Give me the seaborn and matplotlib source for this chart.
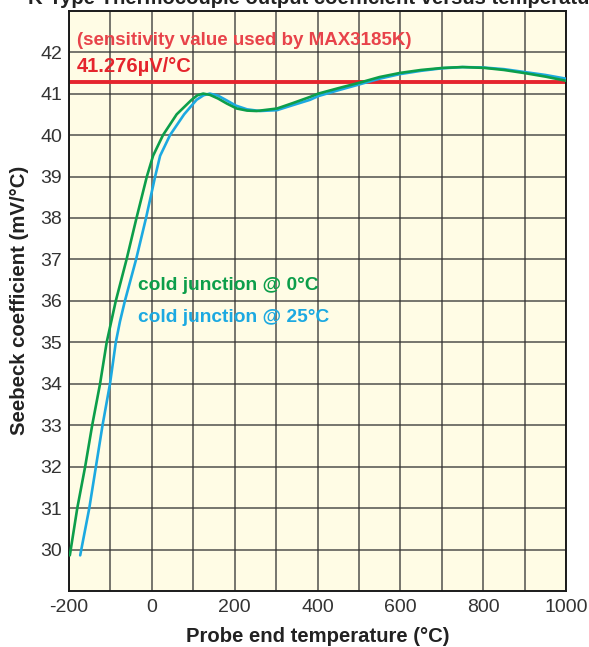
import matplotlib
matplotlib.use("Agg")
import matplotlib.pyplot as plt
import seaborn as sns
import pandas as pd

# ---- data ----
temp_0c = [-198, -180, -161, -144, -125, -109, -87, -61, -37, -12, 3, 27, 60, 96, 110, 124,
           140, 160, 181, 205, 230, 253, 302, 340, 382, 402, 450, 504, 550, 600, 650, 703,
           750, 803, 850, 903, 950, 1000]
seebeck_0c = [29.86, 31.0, 32.0, 33.0, 34.0, 35.0, 36.0, 37.0, 38.0, 39.0, 39.5, 40.0, 40.5,
              40.85, 40.96, 41.0, 40.97, 40.88, 40.76, 40.64, 40.59, 40.58, 40.64, 40.77,
              40.92, 41.0, 41.13, 41.27, 41.40, 41.50, 41.57, 41.62, 41.64, 41.62, 41.57,
              41.49, 41.41, 41.31]

temp_25c = [-173, -151, -135, -119, -101, -87, -77, -65, -38, -14, 8, 20, 44, 78, 108, 125,
            140, 160, 180, 203, 230, 261, 302, 340, 382, 402, 450, 504, 550, 599, 650, 700,
            750, 800, 850, 900, 950, 1000]
seebeck_25c = [29.86, 31.0, 32.0, 33.0, 34.0, 35.0, 35.5, 36.0, 37.0, 38.0, 39.0, 39.5, 40.0,
               40.5, 40.85, 40.96, 41.0, 40.95, 40.84, 40.71, 40.62, 40.58, 40.6, 40.72,
               40.85, 40.94, 41.08, 41.23, 41.36, 41.47, 41.55, 41.61, 41.64, 41.63, 41.59,
               41.52, 41.45, 41.36]

series_names = ["cold junction @ 0°C", "cold junction @ 25°C"]
max_sensitivity = 41.276
x_ticks = list(range(-200, 1001, 100))
x_labels = [str(t) if t % 200 == 0 else "" for t in x_ticks]
y_ticks = list(range(30, 43))
title = "K-Type Thermocouple output coefficient versus temperature"

# ---- style ----
sns.set_style("white", {"axes.facecolor": "#FFFCE5"})
plt.rcParams["font.family"] = ["Liberation Sans", "DejaVu Sans"]

W, H = 589, 647
fig = plt.figure(figsize=(W / 100, H / 100), dpi=100)
ax = fig.add_axes([69 / W, (H - 591) / H, (566 - 69) / W, (591 - 10.7) / H])

df = pd.concat([
    pd.DataFrame({"T": temp_0c, "S": seebeck_0c, "series": series_names[0]}),
    pd.DataFrame({"T": temp_25c, "S": seebeck_25c, "series": series_names[1]}),
])
green = "#0C9E4A"
blue = "#1CA9E1"
red = "#E5252D"

ax.axhline(max_sensitivity, color=red, lw=2.8, zorder=2)
sns.lineplot(data=df, x="T", y="S", hue="series", palette=[green, blue],
             hue_order=series_names, estimator=None, sort=False, lw=1.9,
             legend=False, ax=ax, zorder=3)
for line in ax.get_lines():
    if line.get_color() == green:
        line.set_zorder(4)

ax.set_xlim(-200, 1000)
ax.set_ylim(29, 43)
ax.set_xticks(x_ticks)
ax.set_xticklabels(x_labels)
ax.set_yticks(y_ticks)
ax.set_yticklabels([str(v) for v in y_ticks])
ax.tick_params(axis="both", length=0, labelsize=14, labelcolor="#333333")
ax.tick_params(axis="x", pad=6)
ax.tick_params(axis="y", pad=5)
ax.grid(True, color="#333333", lw=1.1, alpha=0.85)
ax.set_axisbelow(True)
for sp in ax.spines.values():
    sp.set_color("#1a1a1a")
    sp.set_linewidth(1.4)
    sp.set_visible(True)
ax.set_xlabel("")
ax.set_ylabel("")

# annotations
ax.text(-181, 42.29, "(sensitivity value used by MAX3185K)", color="#E8434A",
        fontsize=13.5, fontweight="bold", va="center", ha="left", zorder=5)
ax.text(-181, 41.66, "41.276µV/°C", color=red, fontsize=14.5, fontweight="bold",
        va="center", ha="left", zorder=5)
ax.text(-33, 36.37, series_names[0], color=green, fontsize=13.8, fontweight="bold",
        va="center", ha="left", zorder=5)
ax.text(-33, 35.6, series_names[1], color=blue, fontsize=13.8, fontweight="bold",
        va="center", ha="left", zorder=5)

fig.text(317.5 / W, (H - 637) / H, "Probe end temperature (°C)", fontsize=14.6,
         fontweight="bold", color="#222222", ha="center", va="center")
fig.text(20 / W, (H - 300) / H, "Seebeck coefficient (mV/°C)", fontsize=14.7,
         fontweight="bold", color="#222222", ha="center", va="center", rotation=90)
fig.text(28 / W, 1 - 4.5 / H, title, fontsize=14.6, fontweight="bold", color="#222222",
         ha="left", va="baseline")

fig.savefig("out.png", dpi=100)
